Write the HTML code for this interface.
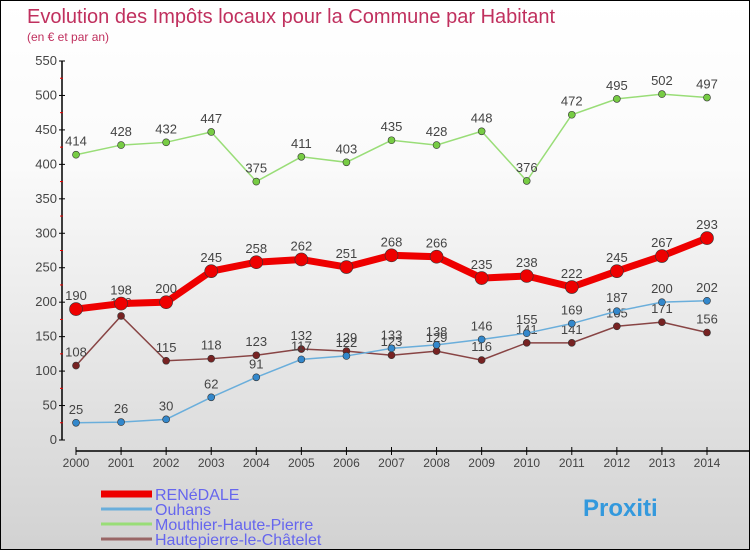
<!DOCTYPE html>
<html><head><meta charset="utf-8"><style>
body{margin:0}
#c{width:750px;height:550px;position:relative;box-sizing:border-box;border:1px solid #000;background:linear-gradient(#fff,#fafafa 30%,#d2d2d2);font-family:"Liberation Sans",sans-serif;overflow:hidden}
svg{position:absolute;left:0;top:0}
</style></head><body>
<div id="c">
<svg id="s" width="750" height="550">
<text x="26" y="22" font-size="20" fill="#c0305e">Evolution des Impôts locaux pour la Commune par Habitant</text>
<text x="26" y="40" font-size="12" fill="#c0305e">(en € et par an)</text>
</svg>
</div>
<script>
const years=[2000,2001,2002,2003,2004,2005,2006,2007,2008,2009,2010,2011,2012,2013,2014];
const renedale=[190,198,200,245,258,262,251,268,266,235,238,222,245,267,293];
const ouhans=[25,26,30,62,91,117,122,133,138,146,155,169,187,200,202];
const mouthier=[414,428,432,447,375,411,403,435,428,448,376,472,495,502,497];
const hautepierre=[108,180,115,118,123,132,129,123,129,116,141,141,165,171,156];
const yTicks=[0,50,100,150,200,250,300,350,400,450,500,550];
const NS="http://www.w3.org/2000/svg";
const s=document.getElementById('s');
const X=i=>75+i*(706-75)/(years.length-1);
const Y=v=>439-v*(379/550);
function mk(t,a,p){const e=document.createElementNS(NS,t);for(const k in a)e.setAttribute(k,a[k]);(p||s).appendChild(e);return e;}
let ya=mk('line',{x1:61,y1:60,x2:61,y2:439,stroke:'#000','stroke-width':1.5});


yTicks.forEach(v=>{
 mk('line',{x1:58,x2:64,y1:Y(v),y2:Y(v),stroke:'#000'});
 if(v<550) mk('line',{x1:59,x2:62,y1:Y(v+25),y2:Y(v+25),stroke:'#e00'});
 let t=mk('text',{x:56,y:Y(v)+4,'text-anchor':'end','font-size':13,fill:'#444'});t.textContent=v;
 
 
});
let xa=mk('line',{x1:75,y1:450,x2:749,y2:450,stroke:'#000','stroke-width':1.5});


years.forEach((y,i)=>{
 mk('line',{x1:X(i),x2:X(i),y1:446,y2:454,stroke:'#000'});
 let t=mk('text',{x:X(i),y:466,'text-anchor':'middle','font-size':12,fill:'#444'});t.textContent=y;
 
 
});
function series(d,col,w,r,name,fill){
 const g=mk('g',{});
 
 
 mk('polyline',{points:d.map((v,i)=>X(i)+','+Y(v)).join(' '),fill:'none',stroke:col,'stroke-width':w},g);
 d.forEach((v,i)=>{
  const c=mk('circle',{cx:X(i),cy:Y(v),r:r,fill:fill,stroke:'#333','stroke-width':0.6},g);
  
  
  const t=mk('text',{x:X(i),y:Y(v)-9,'text-anchor':'middle','font-size':13,fill:'#444'},g);t.textContent=v;
  
  
 });
}
series(mouthier,'#99dd77',1.5,3.5,'mouthier','#77cc44');
series(hautepierre,'#884444',1.5,3.5,'hautepierre','#772222');
series(ouhans,'#6aaedb',1.5,3.5,'ouhans','#3388cc');
series(renedale,'#ee0000',7,6.5,'renedale','#ee0000');
const leg=[['RENéDALE','#ee0000',7],['Ouhans','#6aaedb',3],['Mouthier-Haute-Pierre','#99dd77',3],['Hautepierre-le-Châtelet','#996666',3]];
leg.forEach((l,i)=>{
 const yy=493+i*15;
 const g=mk('g',{});
 
 
 mk('line',{x1:100,x2:151,y1:yy,y2:yy,stroke:l[1],'stroke-width':l[2]},g);
 const t=mk('text',{x:154,y:yy+6,'font-size':16,fill:'#6666ee'},g);t.textContent=l[0];
});
const lg=mk('text',{x:582,y:515,'font-size':24,'font-weight':'bold',fill:'#3399dd'});
lg.textContent='Proxiti';


</script>
</body></html>
